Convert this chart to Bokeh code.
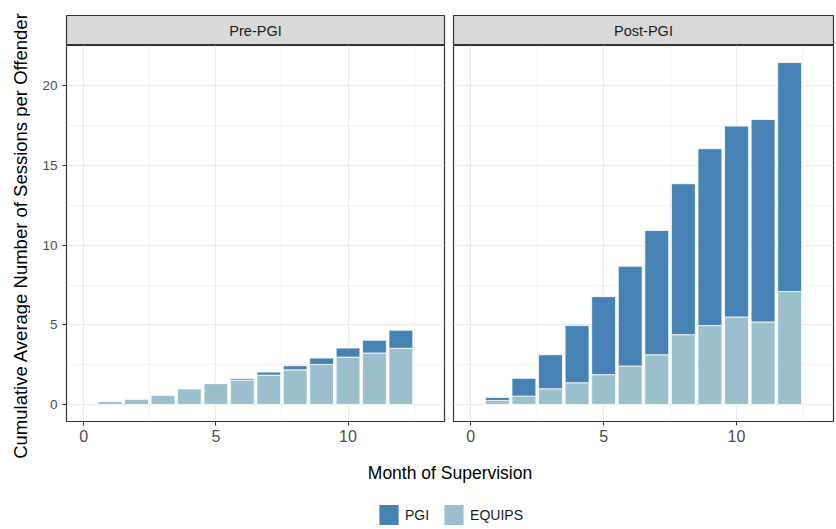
import math
from bokeh.plotting import figure
from bokeh.layouts import column, row
from bokeh.models import ColumnDataSource, FixedTicker, Label, Legend, LegendItem, Grid
from bokeh.embed import file_html
from bokeh.resources import INLINE

# ---------------- data ----------------
months = [1, 2, 3, 4, 5, 6, 7, 8, 9, 10, 11, 12]
equips_pre = [0.19, 0.34, 0.59, 0.99, 1.31, 1.52, 1.84, 2.17, 2.51, 2.97, 3.23, 3.52]
pgi_pre = [0.0, 0.0, 0.0, 0.0, 0.0, 0.10, 0.19, 0.26, 0.40, 0.57, 0.80, 1.14]
equips_post = [0.25, 0.52, 0.98, 1.36, 1.87, 2.41, 3.12, 4.38, 4.95, 5.49, 5.18, 7.09]
pgi_post = [0.19, 1.12, 2.14, 3.59, 4.90, 6.27, 7.80, 9.48, 11.11, 11.99, 12.72, 14.38]
panels = ["Pre-PGI", "Post-PGI"]
series = ["PGI", "EQUIPS"]
x_ticks = [0, 5, 10]
x_minor = [2.5, 7.5, 12.5]
y_ticks = [0, 5, 10, 15, 20]
y_minor = [2.5, 7.5, 12.5, 17.5, 22.5]
y_title = "Cumulative Average Number of Sessions per Offender"
x_title = "Month of Supervision"

C_PGI = "#4682B4"
C_EQ = "#9BC0CD"
FONT = "Liberation Sans"
BORDER = "#333333"
GRID = "#EBEBEB"

# ranges (ggplot-like expansion)
ymax = max(e + p for e, p in zip(equips_post, pgi_post))
y_lo = -0.05 * ymax
y_hi = ymax * 1.05
x_lo, x_hi = -0.65, 13.65

W, H = 836, 529
TITLE_W = 30      # column holding the y-axis title
STRIP_H = 45      # 15 px margin + 30 px strip
PANEL_H = 407     # panel frame 45..421 + x axis
BOTTOM = 31


def common(first):
    return dict(width=(449 - TITLE_W) if first else 387,
                output_backend="svg", toolbar_location=None,
                min_border_left=(66 - TITLE_W) if first else 4,
                min_border_right=5 if first else 3)


def make_strip(title, first):
    s = figure(height=STRIP_H, x_range=(0, 1), y_range=(0, 1),
               x_axis_location=None, y_axis_location=None,
               min_border_top=15, min_border_bottom=0, **common(first))
    s.grid.visible = False
    s.background_fill_color = "#D9D9D9"
    s.border_fill_color = "white"
    s.outline_line_color = BORDER
    s.outline_line_width = 1.2
    s.add_layout(Label(x=0.5, y=0.5, text=title, text_align="center", text_baseline="middle",
                       text_font=FONT, text_font_size="14.5px", text_color="#1A1A1A"))
    return s


def make_panel(equips, pgi, first):
    kw = dict(height=PANEL_H, x_range=(x_lo, x_hi), y_range=(y_lo, y_hi),
              min_border_top=0, min_border_bottom=BOTTOM, **common(first))
    if not first:
        kw["y_axis_location"] = None
    p = figure(**kw)
    p.background_fill_color = "white"
    p.border_fill_color = "white"
    p.outline_line_color = BORDER
    p.outline_line_width = 1.2

    # grids
    p.xgrid.ticker = FixedTicker(ticks=x_ticks, minor_ticks=x_minor)
    if len(p.ygrid) == 0:
        p.add_layout(Grid(dimension=1, ticker=FixedTicker(ticks=y_ticks, minor_ticks=y_minor)))
    else:
        p.ygrid.ticker = FixedTicker(ticks=y_ticks, minor_ticks=y_minor)
    for g in list(p.xgrid) + list(p.ygrid):
        g.grid_line_color = GRID
        g.grid_line_width = 1.1
        g.minor_grid_line_color = GRID
        g.minor_grid_line_width = 0.6

    # x axis
    xa = p.xaxis[0]
    xa.ticker = FixedTicker(ticks=x_ticks)
    xa.axis_line_color = None
    xa.major_tick_line_color = BORDER
    xa.major_tick_out = 4
    xa.major_tick_in = 0
    xa.minor_tick_line_color = None
    xa.major_label_text_font = FONT
    xa.major_label_text_font_size = "16px"
    xa.major_label_text_color = "#4D4D4D"
    xa.major_label_standoff = 4

    if first:
        ya = p.yaxis[0]
        ya.ticker = FixedTicker(ticks=y_ticks)
        ya.axis_line_color = None
        ya.major_tick_line_color = BORDER
        ya.major_tick_out = 4
        ya.major_tick_in = 0
        ya.minor_tick_line_color = None
        ya.major_label_text_font = FONT
        ya.major_label_text_font_size = "13.5px"
        ya.major_label_text_color = "#4D4D4D"
        ya.major_label_standoff = 5

    src = ColumnDataSource(dict(month=months, EQUIPS=equips, PGI=pgi))
    p.vbar_stack(["EQUIPS", "PGI"], x="month", width=0.9, source=src,
                 fill_color=[C_EQ, C_PGI], line_color="white", line_width=0.8)
    return p


s1 = make_strip(panels[0], True)
s2 = make_strip(panels[1], False)
p1 = make_panel(equips_pre, pgi_pre, True)
p2 = make_panel(equips_post, pgi_post, False)

# left column: y-axis title, centred on the panel area
pt = figure(width=TITLE_W, height=H, x_range=(0, 1), y_range=(0, 1),
            output_backend="svg", toolbar_location=None,
            x_axis_location=None, y_axis_location=None,
            min_border_left=0, min_border_right=0, min_border_top=0, min_border_bottom=0)
pt.grid.visible = False
pt.outline_line_color = None
pt.add_layout(Label(x=20, y=H - 235, x_units="screen", y_units="screen",
                    text=y_title, angle=math.pi / 2,
                    text_align="center", text_baseline="middle",
                    text_font=FONT, text_font_size="18.5px", text_color="black"))

# bottom: x title + legend
p3 = figure(width=W - TITLE_W, height=H - STRIP_H - PANEL_H, x_range=(0, 1), y_range=(0, 1),
            output_backend="svg", toolbar_location=None,
            x_axis_location=None, y_axis_location=None,
            min_border_left=66 - TITLE_W, min_border_right=3, min_border_top=0, min_border_bottom=0)
p3.grid.visible = False
p3.outline_line_color = None
p3.add_layout(Label(x=0.5, y=57, y_units="screen", text=x_title,
                    text_align="center", text_baseline="alphabetic",
                    text_font=FONT, text_font_size="17.5px", text_color="black"))
# zero-size stand-in renderers, only for the legend keys
r_pgi = p3.vbar(x=[0], top=[0], width=0, fill_color=C_PGI, line_color=None)
r_eq = p3.vbar(x=[0], top=[0], width=0, fill_color=C_EQ, line_color=None)
legend = Legend(items=[LegendItem(label=series[0], renderers=[r_pgi]),
                       LegendItem(label=series[1], renderers=[r_eq])],
                orientation="horizontal", location="bottom_center",
                glyph_width=24, glyph_height=25, label_standoff=5, spacing=12,
                padding=0, margin=2, border_line_color=None, background_fill_alpha=0,
                label_text_font=FONT, label_text_font_size="14px", label_text_color="#1A1A1A")
p3.add_layout(legend)

layout = row(pt, column(row(s1, s2), row(p1, p2), p3))
open("out.html", "w").write(file_html(layout, INLINE))
